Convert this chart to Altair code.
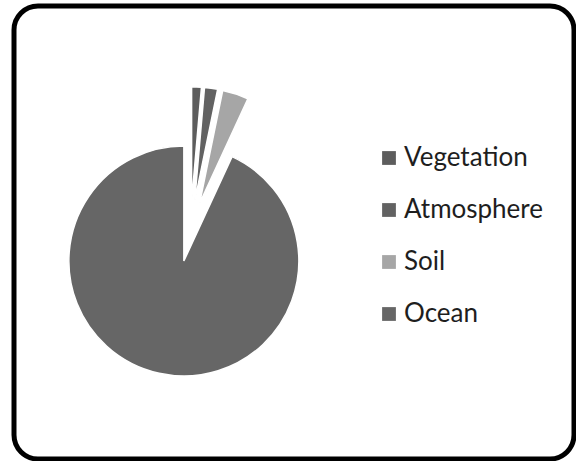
import altair as alt
import pandas as pd

reservoirs = ["Vegetation", "Atmosphere", "Soil", "Ocean"]
carbon_gt = [560, 750, 1500, 38000]
slice_order = [1, 2, 3, 4]
colors = ["#5d5d5d", "#626262", "#a6a6a6", "#666666"]

df = pd.DataFrame({"reservoir": reservoirs, "carbon": carbon_gt, "order": slice_order})

CX, CY, R, EXPLODE = 176.3, 225.7, 115, 30

pie = (
    alt.Chart(df)
    .transform_joinaggregate(total="sum(carbon)")
    .transform_window(cum="sum(carbon)", sort=[alt.SortField("order")], frame=[None, 0])
    .transform_calculate(
        a0="2*PI*(datum.cum - datum.carbon)/datum.total",
        a1="2*PI*datum.cum/datum.total",
    )
    .transform_calculate(mid="(datum.a0 + datum.a1)/2")
    .transform_calculate(
        px=f"{CX} + {EXPLODE}*sin(datum.mid)",
        py=f"{CY} - {EXPLODE}*cos(datum.mid)",
    )
    .mark_arc(radius=R, stroke="white", strokeWidth=1.5)
    .encode(
        x=alt.X("px:Q", scale=None, axis=None),
        y=alt.Y("py:Q", scale=None, axis=None),
        theta=alt.Theta("a0:Q", scale=None),
        theta2="a1:Q",
        color=alt.Color(
            "reservoir:N",
            scale=alt.Scale(domain=reservoirs, range=colors),
            legend=alt.Legend(
                title=None,
                orient="none",
                legendX=362,
                legendY=139,
                symbolType="square",
                symbolSize=190,
                symbolStrokeWidth=0,
                symbolOpacity=1,
                labelFont="Lato",
                labelFontSize=26,
                labelColor="#1e1e1e",
                labelOffset=2,
                rowPadding=26,
            ),
        ),
        order=alt.Order("order:Q"),
    )
)

chart = (
    pie.properties(
        width=560,
        height=453,
        autosize="none",
        padding={"left": 14, "top": 6, "right": 2, "bottom": 2},
        background="white",
    )
    .configure_view(stroke="black", strokeWidth=5, cornerRadius=24, fill="white")
)

chart.save("out.html", embed_options={"renderer": "svg", "actions": False})
